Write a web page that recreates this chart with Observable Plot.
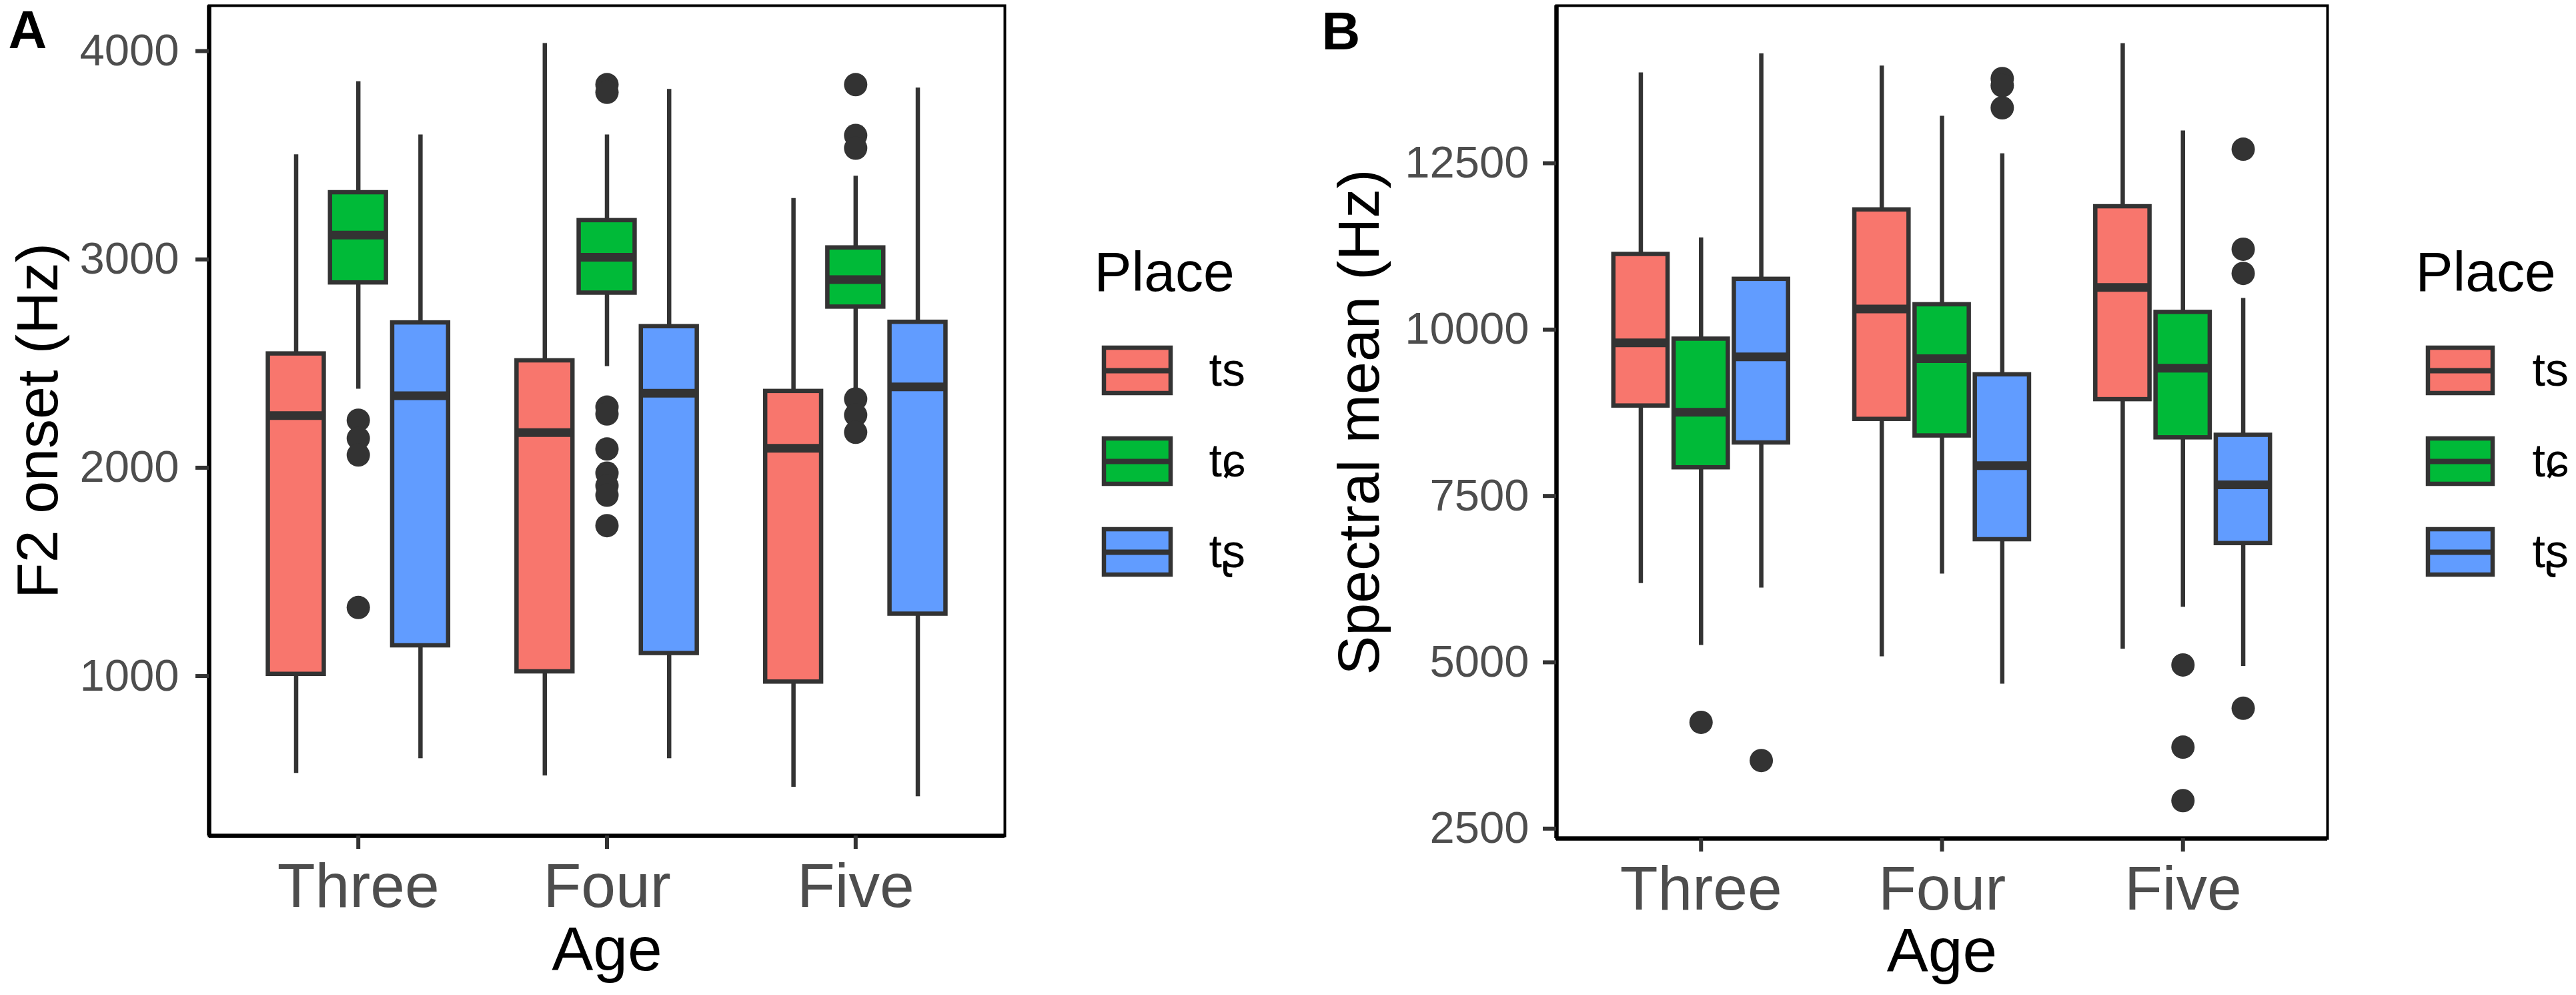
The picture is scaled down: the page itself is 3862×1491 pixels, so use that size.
<!DOCTYPE html>
<html>
<head>
<meta charset="utf-8">
<script src="https://cdn.jsdelivr.net/npm/d3@7"></script>
<script src="https://cdn.jsdelivr.net/npm/@observablehq/plot@0.6"></script>
<style>
  html, body { margin: 0; padding: 0; background: #ffffff; }
  #page { position: relative; width: 3862px; height: 1491px; overflow: hidden; background: #ffffff; }
  .box { position: absolute; top: 0; }
  .box svg { max-width: none !important; }
</style>
</head>
<body>
<div id="page">
  <div id="panelA" class="box" style="left:0px; width:1560px"></div>
  <div id="legendA" class="box" style="left:1600px; top:330px; width:400px"></div>
  <div id="panelB" class="box" style="left:1960px; width:1560px"></div>
  <div id="legendB" class="box" style="left:3580px; top:330px; width:400px"></div>
</div>
<script>
// ---------- categories ----------
const ages = ["Three", "Four", "Five"];
const places = ["ts", "tɕ", "tʂ"];
const placeColors = ["#F8766D", "#00BA38", "#619CFF"];

// ---------- Panel A: F2 onset (Hz); order per age: ts, tɕ, tʂ ----------
const f2Low    = [533, 2378, 604,   521, 2486, 604,   467, 2378, 421];
const f2Q1     = [1009, 2888, 1146, 1021, 2839, 1109, 972, 2772, 1298];
const f2Median = [2250, 3117, 2346, 2169, 3010, 2358, 2093, 2903, 2388];
const f2Q3     = [2547, 3321, 2696, 2514, 3187, 2678, 2367, 3056, 2699];
const f2High   = [3503, 3854, 3598, 4037, 3598, 3817, 3293, 3400, 3823];
const f2Outliers = [
  ["Three", "tɕ", 2228], ["Three", "tɕ", 2141], ["Three", "tɕ", 2061], ["Three", "tɕ", 1329],
  ["Four", "tɕ", 3839], ["Four", "tɕ", 3802], ["Four", "tɕ", 2291], ["Four", "tɕ", 2258],
  ["Four", "tɕ", 2090], ["Four", "tɕ", 1974], ["Four", "tɕ", 1913], ["Four", "tɕ", 1868], ["Four", "tɕ", 1722],
  ["Five", "tɕ", 3839], ["Five", "tɕ", 3595], ["Five", "tɕ", 3534],
  ["Five", "tɕ", 2330], ["Five", "tɕ", 2253], ["Five", "tɕ", 2170]
];
const f2Ticks = [1000, 2000, 3000, 4000];

// ---------- Panel B: Spectral mean (Hz) ----------
const specLow    = [6185, 5256, 6118,   5084, 6328, 4673,   5199, 5830, 4940];
const specQ1     = [8854, 7926, 8299,   8653, 8404, 6845,   8950, 8376, 6787];
const specMedian = [9802, 8758, 9591,   10309, 9562, 7955,  10634, 9419, 7668];
const specQ3     = [11132, 9859, 10758, 11801, 10376, 9323, 11849, 10261, 8414];
const specHigh   = [13859, 11380, 14146, 13964, 13208, 12644, 14299, 12988, 10471];
const specOutliers = [
  ["Three", "tɕ", 4098], ["Three", "tʂ", 3524],
  ["Four", "tʂ", 13773], ["Four", "tʂ", 13667], ["Four", "tʂ", 13333],
  ["Five", "tɕ", 4960], ["Five", "tɕ", 3725], ["Five", "tɕ", 2921],
  ["Five", "tʂ", 12711], ["Five", "tʂ", 11208], ["Five", "tʂ", 10845], ["Five", "tʂ", 4309]
];
const specTicks = [2500, 5000, 7500, 10000, 12500];

// ---------- helpers ----------
const FONT = "'Liberation Sans', Arial, Helvetica, sans-serif";
const INK = "#333333";
const HALF = 0.1125; // half of a dodged box width (in age units)
const X_DOMAIN = [0.4, 3.6];
const dodge = (age, place) => ages.indexOf(age) + 1 + (places.indexOf(place) - 1) * 0.25;

function boxRows(low, q1, med, q3, high) {
  return ages.flatMap((age, i) => places.map((place, j) => {
    const k = i * places.length + j;
    return {age, place, pos: dodge(age, place), low: low[k], q1: q1[k], median: med[k], q3: q3[k], high: high[k]};
  }));
}

function panel(o) {
  const rows = boxRows(...o.stats);
  return Plot.plot({
    width: o.width, height: 1491,
    marginLeft: o.marginLeft, marginRight: o.marginRight, marginTop: 8, marginBottom: o.marginBottom,
    style: {fontFamily: FONT, background: "transparent", overflow: "visible", maxWidth: "none"},
    x: {domain: X_DOMAIN},
    y: {domain: o.domain},
    color: {domain: places, range: placeColors},
    marks: [
      Plot.ruleX(rows, {x: "pos", y1: "low", y2: "q1", stroke: INK, strokeWidth: 6.5}),
      Plot.ruleX(rows, {x: "pos", y1: "q3", y2: "high", stroke: INK, strokeWidth: 6.5}),
      Plot.rect(rows, {x1: d => d.pos - HALF, x2: d => d.pos + HALF, y1: "q1", y2: "q3",
                       fill: "place", stroke: INK, strokeWidth: 6.5}),
      Plot.ruleY(rows, {y: "median", x1: d => d.pos - HALF, x2: d => d.pos + HALF, stroke: INK, strokeWidth: 13}),
      Plot.dot(o.outliers, {x: d => dodge(d[0], d[1]), y: d => d[2], r: 17.5, fill: INK, stroke: "none"}),
      Plot.frame({stroke: "#000000", strokeWidth: 4}),
      // heavier axis lines on the left and bottom edges of the panel
      Plot.ruleX([X_DOMAIN[0]], {stroke: "#000000", strokeWidth: 6.5}),
      Plot.ruleY([o.domain[0]], {stroke: "#000000", strokeWidth: 6.5}),
      Plot.axisY({ticks: o.ticks, tickFormat: d => String(d), tickSize: 20, tickPadding: o.tickPadY, fontSize: 67,
                  fill: "#4D4D4D", stroke: INK, strokeWidth: 6, label: null}),
      Plot.axisX({ticks: [1, 2, 3], tickFormat: d => ages[d - 1], tickSize: 20, tickPadding: o.tickPadX,
                  fontSize: 93, fill: "#4D4D4D", stroke: INK, strokeWidth: 6, label: null}),
      Plot.text([o.label], {text: d => d, frameAnchor: "left", dx: o.titleDx, rotate: -90,
                            textAnchor: "middle", lineAnchor: "middle", fontSize: 88, fill: "#000000"}),
      Plot.text(["Age"], {text: d => d, frameAnchor: "bottom", dy: o.ageDy,
                          textAnchor: "middle", lineAnchor: "middle", fontSize: 93, fill: "#000000"}),
      Plot.text([o.tag], {text: d => d, frameAnchor: "top-left", dx: o.tagDx, dy: o.tagDy,
                          textAnchor: "middle", lineAnchor: "middle",
                          fontSize: 80, fontWeight: "bold", fill: "#000000"})
    ]
  });
}

function legend(o) {
  return Plot.plot({
    width: 400, height: 600, margin: 0,
    style: {fontFamily: FONT, background: "transparent", overflow: "visible", maxWidth: "none"},
    x: {type: "band", domain: ["key"], range: o.keyRange, padding: 0, axis: null},
    y: {type: "band", domain: places, range: [157, 565], padding: 0, axis: null},
    color: {domain: places, range: placeColors},
    marks: [
      Plot.ruleX(places, {x: () => "key", y: d => d, insetTop: 11, insetBottom: 11, stroke: INK, strokeWidth: 6.5}),
      Plot.cell(places, {x: () => "key", y: d => d, fill: d => d, stroke: INK, strokeWidth: 6.5,
                         insetTop: 34, insetBottom: 34}),
      Plot.tickY(places, {x: () => "key", y: d => d, stroke: INK, strokeWidth: 8}),
      Plot.text(places, {y: d => d, text: d => d, frameAnchor: "left", dx: o.labelDx,
                         textAnchor: "start", lineAnchor: "middle", fontSize: 70, fill: "#000000"}),
      Plot.text(["Place"], {text: d => d, frameAnchor: "top-left", dx: o.titleDx, dy: 79,
                            textAnchor: "start", lineAnchor: "middle", fontSize: 84, fill: "#000000"})
    ]
  });
}

document.getElementById("panelA").append(panel({
  stats: [f2Low, f2Q1, f2Median, f2Q3, f2High], outliers: f2Outliers,
  domain: [233, 4218], ticks: f2Ticks, label: "F2 onset (Hz)", tag: "A",
  width: 1560, marginLeft: 313, marginRight: 54, marginBottom: 239,
  tickPadX: 20, tickPadY: 25, titleDx: -256, ageDy: 172, tagDx: -272, tagDy: 38
}));
document.getElementById("legendA").append(legend({keyRange: [55, 155], labelDx: 212, titleDx: 40}));

document.getElementById("panelB").append(panel({
  stats: [specLow, specQ1, specMedian, specQ3, specHigh], outliers: specOutliers,
  domain: [2352, 14868], ticks: specTicks, label: "Spectral mean (Hz)", tag: "B",
  width: 1560, marginLeft: 373, marginRight: 31, marginBottom: 235,
  tickPadX: 20, tickPadY: 21, titleDx: -295, ageDy: 170, tagDx: -323, tagDy: 40
}));
document.getElementById("legendB").append(legend({keyRange: [60, 157], labelDx: 216, titleDx: 41}));
</script>
</body>
</html>
